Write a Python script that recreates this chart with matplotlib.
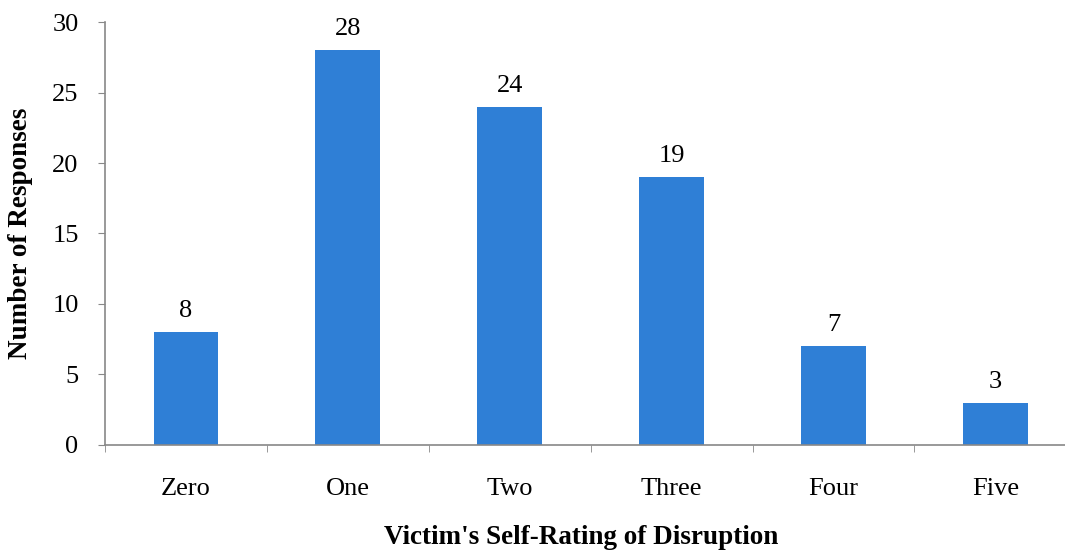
import matplotlib.pyplot as plt
import numpy as np

categories = ["Zero", "One", "Two", "Three", "Four", "Five"]
responses = [8, 28, 24, 19, 7, 3]

plt.rcParams['font.family'] = ['Liberation Serif', 'DejaVu Serif']

fig = plt.figure(figsize=(10.65, 5.52), dpi=100)
# plot area runs a little past the right edge so the x axis reaches the border
ax = fig.add_axes([0.0986, 0.194, 0.912, 0.766])

x = np.arange(len(categories))
bars = ax.bar(x, responses, width=0.4, color='#2f7fd6', zorder=2)
for rect, v in zip(bars, responses):
    ax.text(rect.get_x() + rect.get_width() / 2, v + 0.7, str(v),
            ha='center', va='bottom', fontsize=19)

ax.set_xlim(-0.5, len(categories) - 0.5)
ax.set_ylim(0, 30)
ax.set_yticks(range(0, 31, 5))
ax.set_xticks(x)
ax.set_xticklabels(categories)
# tick marks sit between the categories
ax.set_xticks(np.arange(-0.5, len(categories), 1.0), minor=True)
ax.tick_params(axis='x', which='major', length=0, pad=24, labelsize=19)
ax.tick_params(axis='x', which='minor', length=5, color='#888888', direction='out')
ax.tick_params(axis='y', length=5, color='#888888', pad=14, labelsize=19)

for side in ['top', 'right']:
    ax.spines[side].set_visible(False)
for side in ['left', 'bottom']:
    ax.spines[side].set_color('#888888')
    ax.spines[side].set_linewidth(1.2)

ax.set_xlabel("Victim's Self-Rating of Disruption", fontsize=19.5,
              fontweight='bold', va='center')
ax.xaxis.set_label_coords(0.49, -0.218)
ax.set_ylabel("Number of Responses", fontsize=19.5, fontweight='bold',
              va='center')
ax.yaxis.set_label_coords(-0.087, 0.5)

fig.savefig('out.png', dpi=100)
